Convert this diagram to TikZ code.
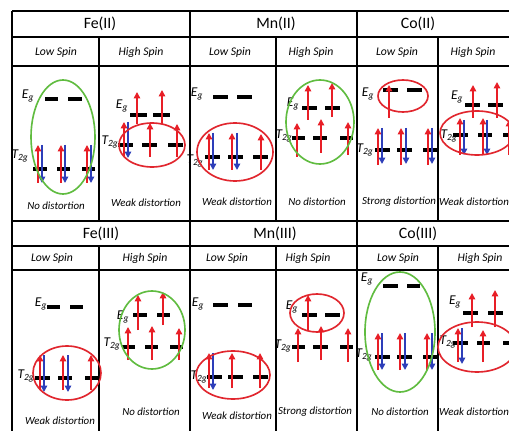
\documentclass[tikz,border=0pt]{standalone}
\usepackage{fontspec}
\setmainfont{Carlito}
\usetikzlibrary{arrows.meta}
\definecolor{spinred}{RGB}{232,30,38}
\definecolor{spinblue}{RGB}{45,62,185}
\definecolor{ringred}{RGB}{225,38,46}
\definecolor{ringgreen}{RGB}{96,188,64}
\newcommand{\Eg}{E\textsubscript{g}}
\newcommand{\Ttg}{T\textsubscript{2g}}

\begin{document}
\begin{tikzpicture}[x=0.03cm, y=-0.03cm,
    grid/.style={line width=1pt},
    lvl/.style={line width=2.8pt, draw=black},
    uparr/.style={spinred, line width=1.8pt, -{Triangle[length=5.5pt, width=5.5pt]}},
    dnarr/.style={spinblue, line width=1.8pt, -{Triangle[length=5.5pt, width=5.5pt]}},
    redring/.style={draw=ringred, line width=1.4pt},
    greenring/.style={draw=ringgreen, line width=1.4pt},
    hdr/.style={font=\fontsize{13.5}{15}\selectfont},
    spin/.style={font=\itshape\fontsize{10}{12}\selectfont},
    note/.style={font=\itshape\fontsize{9.3}{11}\selectfont},
    orb/.style={font=\itshape\fontsize{11.5}{13}\selectfont, inner sep=0pt}]
    \clip (0,0) rectangle (509,431);
    \fill[white] (0,0) rectangle (509,431);

    % table
    \draw[grid, line width=1.4pt] (12,11) -- (509,11);
    \draw[grid] (12,37) -- (509,37);
    \draw[grid] (12,66) -- (509,66);
    \draw[grid, line width=1.4pt] (12,221) -- (509,221);
    \draw[grid] (12,246) -- (509,246);
    \draw[grid] (12,270) -- (509,270);
    \draw[grid] (12,11) -- (12,431);
    \draw[grid] (190,11) -- (190,431);
    \draw[grid] (357,11) -- (357,431);
    \foreach \cx in {99,276,438} {
        \draw[grid] (\cx,37) -- (\cx,221);
        \draw[grid] (\cx,246) -- (\cx,431);
    }

    % headers
    \node[hdr] (feII) at (100,24) {Fe(II)};
    \node[hdr] (mnII) at (276,24) {Mn(II)};
    \node[hdr] (coII) at (418,24) {Co(II)};
    \node[spin] (feIIlo) at (56,52) {Low Spin};
    \node[spin] (feIIhi) at (141,52) {High Spin};
    \node[spin] (mnIIlo) at (230,52) {Low Spin};
    \node[spin] (mnIIhi) at (311,52) {High Spin};
    \node[spin] (coIIlo) at (397,52) {Low Spin};
    \node[spin] (coIIhi) at (473,52) {High Spin};
    \node[hdr] (feIII) at (101,234) {Fe(III)};
    \node[hdr] (mnIII) at (275,234) {Mn(III)};
    \node[hdr] (coIII) at (418,234) {Co(III)};
    \node[spin] (feIIIlo) at (52,258) {Low Spin};
    \node[spin] (feIIIhi) at (145,258) {High Spin};
    \node[spin] (mnIIIlo) at (227,258) {Low Spin};
    \node[spin] (mnIIIhi) at (308,258) {High Spin};
    \node[spin] (coIIIlo) at (398,258) {Low Spin};
    \node[spin] (coIIIhi) at (480,258) {High Spin};

    % Fe(II) low spin
    \node[orb] (egA) at (28,96) {\Eg};
    \draw[lvl] (45,99) -- (58,99);
    \draw[lvl] (68,99) -- (82,99);
    \node[orb] (ttA) at (20,156) {\Ttg};
    \draw[lvl] (33,169) -- (47,169);
    \draw[lvl] (57,169) -- (70,169);
    \draw[lvl] (82,169) -- (95,169);
    \draw[uparr] (38,183) -- (38,145);
    \draw[dnarr] (42,145) -- (42,183);
    \draw[uparr] (61,183) -- (61,145);
    \draw[dnarr] (65,145) -- (65,183);
    \draw[uparr] (87,183) -- (87,145);
    \draw[dnarr] (91,145) -- (91,183);
    \draw[greenring] (63,137) ellipse [x radius=32, y radius=57];
    \node[note] (noteA) at (56,206) {No distortion};

    % Fe(II) high spin
    \node[orb] (egB) at (122,106) {\Eg};
    \draw[lvl] (130,115) -- (147,115);
    \draw[lvl] (153,115) -- (170,115);
    \draw[uparr] (137,124) -- (137,92);
    \draw[uparr] (162,124) -- (162,90);
    \node[orb] (ttB) at (110,142) {\Ttg};
    \draw[lvl] (118,145) -- (133,145);
    \draw[lvl] (142,145) -- (157,145);
    \draw[lvl] (168,145) -- (183,145);
    \draw[uparr] (124,157) -- (124,122);
    \draw[dnarr] (128,122) -- (128,158);
    \draw[uparr] (150,157) -- (150,123);
    \draw[uparr] (177,157) -- (177,124);
    \draw[redring] (152,145) ellipse [x radius=33, y radius=22];
    \node[note] (noteB) at (146,203) {Weak distortion};

    % Mn(II) low spin
    \node[orb] (egC) at (197,94) {\Eg};
    \draw[lvl] (213,97) -- (228,97);
    \draw[lvl] (237,97) -- (252,97);
    \node[orb] (ttC) at (195,161) {\Ttg};
    \draw[lvl] (205,157) -- (220,157);
    \draw[lvl] (228,157) -- (243,157);
    \draw[lvl] (253,157) -- (268,157);
    \draw[uparr] (209,170) -- (209,133);
    \draw[dnarr] (213,133) -- (213,170);
    \draw[uparr] (232,170) -- (232,133);
    \draw[dnarr] (237,133) -- (237,170);
    \draw[uparr] (261,170) -- (261,134);
    \draw[redring] (235,152) ellipse [x radius=38, y radius=29];
    \node[note] (noteC) at (237,202) {Weak distortion};

    % Mn(II) high spin
    \node[orb] (egD) at (293,104) {\Eg};
    \draw[lvl] (302,108) -- (317,108);
    \draw[lvl] (325,108) -- (340,108);
    \draw[uparr] (308,120) -- (308,85);
    \draw[uparr] (332,117) -- (332,83);
    \node[orb] (ttD) at (284,136) {\Ttg};
    \draw[lvl] (292,138) -- (305,138);
    \draw[lvl] (313,138) -- (327,138);
    \draw[lvl] (340,138) -- (353,138);
    \draw[uparr] (297,157) -- (297,123);
    \draw[uparr] (321,153) -- (321,119);
    \draw[uparr] (348,155) -- (348,122);
    \draw[greenring] (320,122) ellipse [x radius=34, y radius=42];
    \node[note] (noteD) at (317,202) {No distortion};

    % Co(II) low spin
    \node[orb] (egE) at (368,94) {\Eg};
    \draw[lvl] (383,90) -- (398,90);
    \draw[lvl] (407,90) -- (422,90);
    \draw[uparr] (389,118) -- (389,85);
    \draw[redring] (403,96) ellipse [x radius=25, y radius=16];
    \node[orb] (ttE) at (365,150) {\Ttg};
    \draw[lvl] (375,150) -- (390,150);
    \draw[lvl] (397,150) -- (412,150);
    \draw[lvl] (423,150) -- (437,150);
    \draw[uparr] (378,165) -- (378,128);
    \draw[dnarr] (382,128) -- (382,164);
    \draw[uparr] (401,165) -- (401,128);
    \draw[dnarr] (406,128) -- (406,164);
    \draw[uparr] (428,165) -- (428,128);
    \draw[dnarr] (432,128) -- (432,164);
    \node[note] (noteE) at (399,202) {Strong distortion};

    % Co(II) high spin
    \node[orb] (egF) at (457,97) {\Eg};
    \draw[lvl] (465,105) -- (480,105);
    \draw[lvl] (488,105) -- (503,105);
    \draw[uparr] (473,118) -- (473,85);
    \draw[uparr] (497,118) -- (497,82);
    \node[orb] (ttF) at (449,136) {\Ttg};
    \draw[lvl] (453,135) -- (468,135);
    \draw[lvl] (478,135) -- (492,135);
    \draw[lvl] (503,135) -- (518,135);
    \draw[uparr] (460,155) -- (460,118);
    \draw[dnarr] (464,120) -- (464,155);
    \draw[uparr] (483,155) -- (483,118);
    \draw[dnarr] (487,120) -- (487,155);
    \draw[uparr] (509,155) -- (509,120);
    \draw[redring] (477,133) ellipse [x radius=37, y radius=22];
    \node[note] (noteF) at (474,202) {Weak distortion};

    % Fe(III) low spin
    \node[orb] (egG) at (41,304) {\Eg};
    \draw[lvl] (47,307) -- (60,307);
    \draw[lvl] (70,307) -- (83,307);
    \node[orb] (ttG) at (26,376) {\Ttg};
    \draw[lvl] (35,378) -- (50,378);
    \draw[lvl] (58,378) -- (72,378);
    \draw[lvl] (85,378) -- (98,378);
    \draw[uparr] (40,390) -- (40,355);
    \draw[dnarr] (44,355) -- (44,392);
    \draw[uparr] (63,390) -- (63,355);
    \draw[dnarr] (68,355) -- (68,392);
    \draw[uparr] (91,390) -- (91,355);
    \draw[redring] (67,373) ellipse [x radius=34, y radius=27];
    \node[note] (noteG) at (60,421) {Weak distortion};

    % Fe(III) high spin
    \node[orb] (egH) at (123,317) {\Eg};
    \draw[lvl] (133,315) -- (147,315);
    \draw[lvl] (157,315) -- (170,315);
    \draw[uparr] (138,330) -- (138,295);
    \draw[uparr] (163,325) -- (163,292);
    \node[orb] (ttH) at (112,344) {\Ttg};
    \draw[lvl] (122,347) -- (135,347);
    \draw[lvl] (145,347) -- (158,347);
    \draw[lvl] (170,347) -- (183,347);
    \draw[uparr] (128,360) -- (128,327);
    \draw[uparr] (152,360) -- (152,326);
    \draw[uparr] (179,360) -- (179,328);
    \draw[greenring] (152,330) ellipse [x radius=33, y radius=39];
    \node[note] (noteH) at (151,412) {No distortion};

    % Mn(III) low spin
    \node[orb] (egI) at (198,304) {\Eg};
    \draw[lvl] (213,305) -- (228,305);
    \draw[lvl] (238,305) -- (252,305);
    \node[orb] (ttI) at (199,377) {\Ttg};
    \draw[lvl] (207,377) -- (222,377);
    \draw[lvl] (228,377) -- (243,377);
    \draw[lvl] (253,377) -- (268,377);
    \draw[uparr] (209,388) -- (209,353);
    \draw[dnarr] (213,353) -- (213,390);
    \draw[uparr] (232,388) -- (232,353);
    \draw[uparr] (260,388) -- (260,353);
    \draw[redring] (233,375) ellipse [x radius=37, y radius=24];
    \node[note] (noteI) at (237,416) {Weak distortion};

    % Mn(III) high spin
    \node[orb] (egJ) at (292,307) {\Eg};
    \draw[lvl] (302,315) -- (317,315);
    \draw[lvl] (325,315) -- (340,315);
    \draw[uparr] (308,330) -- (308,295);
    \draw[redring] (317,313) ellipse [x radius=27, y radius=19];
    \node[orb] (ttJ) at (283,346) {\Ttg};
    \draw[lvl] (292,347) -- (305,347);
    \draw[lvl] (313,347) -- (328,347);
    \draw[lvl] (340,347) -- (353,347);
    \draw[uparr] (298,362) -- (298,328);
    \draw[uparr] (321,360) -- (321,326);
    \draw[uparr] (348,362) -- (348,328);
    \node[note] (noteJ) at (315,412) {Strong distortion};

    % Co(III) low spin
    \node[orb] (egK) at (367,279) {\Eg};
    \draw[lvl] (383,286) -- (398,286);
    \draw[lvl] (407,286) -- (420,286);
    \node[orb] (ttK) at (364,355) {\Ttg};
    \draw[lvl] (375,357) -- (390,357);
    \draw[lvl] (397,357) -- (412,357);
    \draw[lvl] (423,357) -- (437,357);
    \draw[uparr] (378,370) -- (378,333);
    \draw[dnarr] (382,333) -- (382,370);
    \draw[uparr] (400,370) -- (400,333);
    \draw[dnarr] (405,333) -- (405,370);
    \draw[uparr] (427,370) -- (427,333);
    \draw[dnarr] (432,333) -- (432,370);
    \draw[greenring] (400,332) ellipse [x radius=35, y radius=60];
    \node[note] (noteK) at (400,412) {No distortion};

    % Co(III) high spin
    \node[orb] (egL) at (455,302) {\Eg};
    \draw[lvl] (463,313) -- (478,313);
    \draw[lvl] (488,313) -- (503,313);
    \draw[uparr] (472,327) -- (472,293);
    \draw[uparr] (495,327) -- (495,290);
    \node[orb] (ttL) at (448,342) {\Ttg};
    \draw[lvl] (453,343) -- (468,343);
    \draw[lvl] (477,343) -- (490,343);
    \draw[lvl] (503,343) -- (518,343);
    \draw[uparr] (458,362) -- (458,328);
    \draw[dnarr] (462,328) -- (462,364);
    \draw[uparr] (483,362) -- (483,330);
    \draw[redring] (477,347) ellipse [x radius=39, y radius=25];
    \node[note] (noteL) at (474,412) {Weak distortion};
\end{tikzpicture}
\end{document}
